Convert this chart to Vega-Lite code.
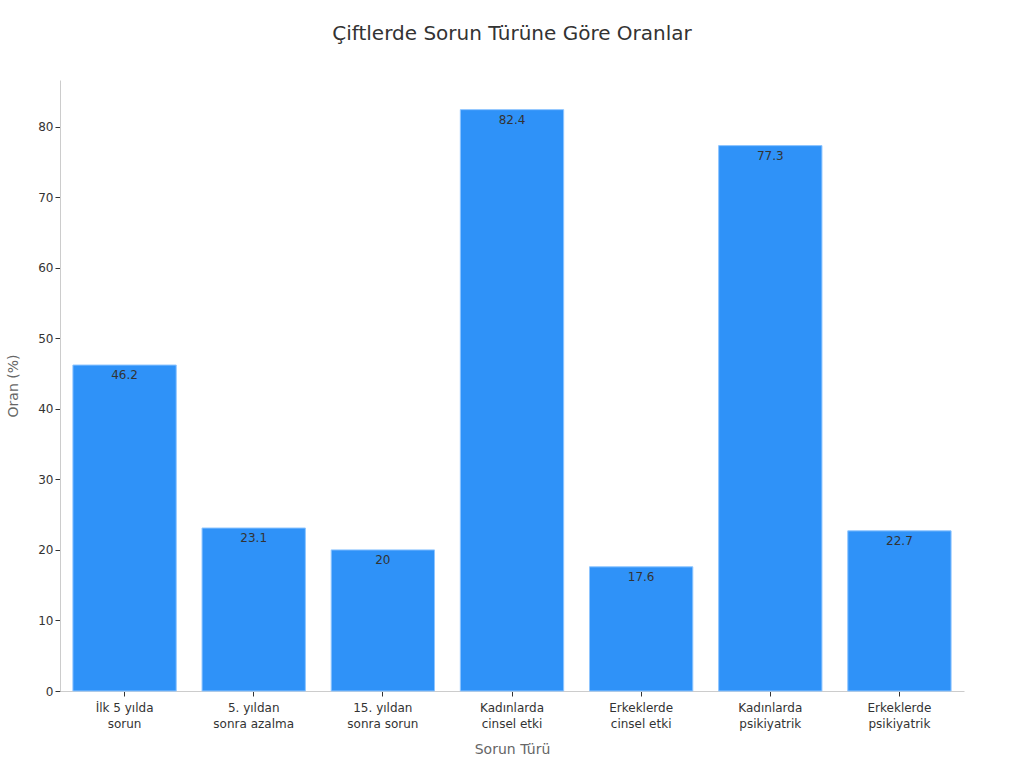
{
  "$schema": "https://vega.github.io/schema/vega-lite/v6.json",
  "title": {
    "text": "Çiftlerde Sorun Türüne Göre Oranlar",
    "anchor": "middle",
    "fontSize": 20,
    "fontWeight": "normal",
    "font": "DejaVu Sans",
    "color": "#333333",
    "offset": 36
  },
  "width": 1024,
  "height": 768,
  "autosize": {"type": "fit", "contains": "padding"},
  "padding": {"left": 6, "right": 60, "top": 24, "bottom": 12},
  "background": "#ffffff",
  "config": {
    "font": "DejaVu Sans",
    "view": {"stroke": null}
  },
  "data": {
    "values": [
      {"sorun": "İlk 5 yılda\nsorun", "oran": 46.2},
      {"sorun": "5. yıldan\nsonra azalma", "oran": 23.1},
      {"sorun": "15. yıldan\nsonra sorun", "oran": 20},
      {"sorun": "Kadınlarda\ncinsel etki", "oran": 82.4},
      {"sorun": "Erkeklerde\ncinsel etki", "oran": 17.6},
      {"sorun": "Kadınlarda\npsikiyatrik", "oran": 77.3},
      {"sorun": "Erkeklerde\npsikiyatrik", "oran": 22.7}
    ]
  },
  "encoding": {
    "x": {
      "field": "sorun",
      "type": "nominal",
      "sort": null,
      "scale": {"paddingInner": 0.2, "paddingOuter": 0.1},
      "axis": {
        "title": "Sorun Türü",
        "titleFontSize": 14,
        "titleFontWeight": "normal",
        "titleColor": "#666666",
        "titlePadding": 13,
        "labelAngle": 0,
        "labelFontSize": 12,
        "labelColor": "#333333",
        "labelExpr": "split(datum.label, '\\n')",
        "labelLineHeight": 16,
        "labelPadding": 6,
        "domainColor": "#cccccc",
        "tickColor": "#333333",
        "tickSize": 5
      }
    },
    "y": {
      "field": "oran",
      "type": "quantitative",
      "scale": {"domain": [0, 86.6], "nice": false},
      "axis": {
        "title": "Oran (%)",
        "titleFontSize": 14,
        "titleFontWeight": "normal",
        "titleColor": "#666666",
        "titlePadding": 17,
        "labelFontSize": 12,
        "labelColor": "#333333",
        "grid": false,
        "values": [0, 10, 20, 30, 40, 50, 60, 70, 80],
        "domainColor": "#cccccc",
        "tickColor": "#333333",
        "tickSize": 5
      }
    }
  },
  "layer": [
    {
      "mark": {
        "type": "bar",
        "color": "#2f92f8",
        "stroke": "#8ec5ff",
        "strokeWidth": 1
      }
    },
    {
      "mark": {
        "type": "text",
        "baseline": "top",
        "dy": 5,
        "fontSize": 12,
        "color": "#333333"
      },
      "encoding": {"text": {"field": "oran", "type": "quantitative"}}
    }
  ]
}
